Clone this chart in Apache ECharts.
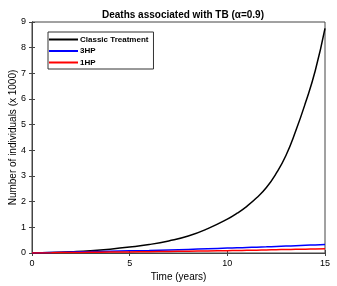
<!DOCTYPE html>
<html><head><meta charset="utf-8">
<script src="https://cdn.jsdelivr.net/npm/echarts@6/dist/echarts.min.js"></script>
<style>html,body{margin:0;padding:0;background:#fff}#c{width:337px;height:286px}</style>
</head><body><div id="c"></div>
<script>
const years   = [0, 1, 2, 3, 4, 5, 6, 7, 8, 9, 10, 10.5, 11, 11.5, 12, 12.5, 13, 13.5, 14, 14.5, 15];
const classic = [0, 0.02, 0.05, 0.09, 0.15, 0.23, 0.33, 0.47, 0.66, 0.95, 1.32, 1.55, 1.82, 2.15, 2.55, 3.1, 3.8, 4.75, 5.85, 7.1, 8.75];
const hp3     = [0, 0.02, 0.04, 0.055, 0.07, 0.085, 0.1, 0.12, 0.14, 0.165, 0.19, 0.2, 0.215, 0.228, 0.24, 0.255, 0.27, 0.285, 0.3, 0.315, 0.33];
const hp1     = [0, 0.01, 0.02, 0.028, 0.035, 0.042, 0.05, 0.06, 0.07, 0.08, 0.09, 0.097, 0.105, 0.112, 0.12, 0.128, 0.135, 0.143, 0.15, 0.16, 0.17];
const xTicks = [0, 5, 10, 15];
const yTicks = [0, 1, 2, 3, 4, 5, 6, 7, 8, 9];

const mk = a => years.map((x, i) => [x, a[i]]);
const font = 'Liberation Sans, Arial, sans-serif';
const axisCol = '#444';
const chart = echarts.init(document.getElementById('c'));
const tick = {show: true, inside: true, length: 3, lineStyle: {color: axisCol}};
chart.setOption({
  animation: false,
  title: {text: 'Deaths associated with TB (\u03b1=0.9)', left: 178, textAlign: 'center', top: 5,
    textStyle: {fontFamily: font, fontSize: 10, fontWeight: 'bold', color: '#000'}},
  grid: {left: 32, right: 12, top: 22, bottom: 33, outerBoundsMode: 'none', containLabel: false,
    show: true, borderColor: axisCol, borderWidth: 1, backgroundColor: 'transparent'},
  legend: {orient: 'vertical', left: 48, top: 32, borderColor: '#333', borderWidth: 1, padding: [3, 5, 2, 1],
    itemGap: 2.5, itemWidth: 29, itemHeight: 2, icon: 'rect',
    textStyle: {fontFamily: font, fontSize: 8, fontWeight: 'bold', color: '#000', lineHeight: 9, padding: [0, 0, 0, -3]},
    data: ['Classic Treatment', '3HP', '1HP']},
  xAxis: [{type: 'value', min: 0, max: 15, interval: 5,
    name: 'Time (years)', nameLocation: 'middle', nameGap: 19, nameMoveOverlap: false,
    nameTextStyle: {fontFamily: font, fontSize: 10, color: '#000'},
    axisLine: {lineStyle: {color: axisCol}}, axisTick: tick,
    axisLabel: {fontFamily: font, fontSize: 9, color: '#000', margin: 6, formatter: v => xTicks.includes(v) ? String(v) : ''},
    splitLine: {show: false}},
    {type: 'value', position: 'top', min: 0, max: 15, interval: 5,
    axisLine: {lineStyle: {color: axisCol}}, axisTick: tick,
    axisLabel: {show: false}, splitLine: {show: false}}],
  yAxis: [{type: 'value', min: 0, max: 9, interval: 1,
    name: 'Number of individuals (x 1000)', nameLocation: 'middle', nameGap: 14, nameMoveOverlap: false,
    nameTextStyle: {fontFamily: font, fontSize: 10, color: '#000'},
    axisLine: {show: true, lineStyle: {color: axisCol}}, axisTick: tick,
    axisLabel: {fontFamily: font, fontSize: 9, color: '#000', margin: 6, formatter: v => yTicks.includes(v) ? String(v) : ''},
    splitLine: {show: false}},
    {type: 'value', position: 'right', min: 0, max: 9, interval: 1,
    axisLine: {show: true, lineStyle: {color: axisCol}}, axisTick: tick,
    axisLabel: {show: false}, splitLine: {show: false}}],
  series: [
    {name: 'Classic Treatment', type: 'line', data: mk(classic), smooth: 0.5, symbol: 'none', lineStyle: {color: '#000', width: 1.5}, itemStyle: {color: '#000'}},
    {name: '3HP', type: 'line', data: mk(hp3), smooth: 0.5, symbol: 'none', lineStyle: {color: '#0000ff', width: 1.5}, itemStyle: {color: '#0000ff'}},
    {name: '1HP', type: 'line', data: mk(hp1), smooth: 0.5, symbol: 'none', lineStyle: {color: '#ff0000', width: 1.5}, itemStyle: {color: '#ff0000'}}
  ]
});
</script></body></html>
